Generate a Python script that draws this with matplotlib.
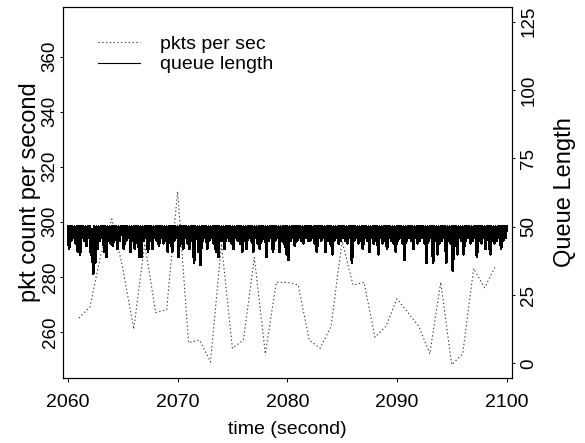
import numpy as np
import matplotlib
matplotlib.use('Agg')
import matplotlib.pyplot as plt

plt.rcParams['font.family'] = ['Liberation Sans', 'DejaVu Sans']

# ---- data ----
pkt_seconds = list(range(2061, 2100))
pkts_per_sec = [265, 269, 288, 301, 283, 261, 292, 267, 268, 311,
                256, 257, 249, 292, 254, 257, 287, 252, 278, 278,
                277, 257, 254, 262, 293, 277, 278, 258, 262, 272,
                267, 262, 252, 278, 248, 252, 283, 276, 284]

queue_start = 2060
queue_end = 2100
# queue length sampled every 0.1 s, one row per second
queue_rows = [
    [50, 42, 50, 45, 50, 46, 50, 44, 50, 41],  # 2060
    [50, 40, 50, 46, 50, 45, 50, 43, 50, 46],
    [50, 40, 49, 33, 50, 37, 50, 42, 50, 45],
    [50, 46, 50, 41, 50, 39, 50, 45, 50, 44],
    [50, 43, 50, 46, 50, 42, 50, 45, 50, 47],
    [50, 42, 50, 45, 50, 46, 50, 41, 50, 45],
    [50, 42, 50, 46, 50, 39, 50, 39, 50, 45],
    [50, 46, 50, 41, 50, 45, 50, 42, 50, 46],
    [50, 45, 50, 43, 50, 46, 50, 44, 50, 45],
    [50, 41, 50, 46, 50, 41, 50, 45, 50, 46],
    [50, 39, 50, 45, 50, 42, 50, 46, 50, 44],  # 2070
    [50, 42, 50, 45, 50, 37, 50, 46, 50, 41],
    [50, 36, 50, 45, 50, 46, 50, 42, 50, 45],
    [50, 46, 50, 44, 50, 41, 50, 39, 50, 45],
    [50, 45, 50, 42, 50, 46, 50, 45, 50, 44],
    [50, 42, 50, 46, 50, 45, 50, 44, 50, 41],
    [50, 45, 50, 42, 50, 46, 50, 45, 50, 41],
    [50, 46, 50, 44, 50, 42, 50, 45, 50, 46],
    [50, 39, 50, 45, 50, 46, 50, 41, 50, 45],
    [50, 46, 50, 41, 50, 45, 50, 44, 50, 40],
    [50, 38, 50, 45, 50, 46, 50, 43, 50, 45],  # 2080
    [50, 46, 50, 45, 50, 44, 50, 46, 50, 45],
    [50, 45, 50, 46, 50, 44, 50, 41, 50, 46],
    [50, 45, 50, 46, 50, 41, 50, 45, 50, 44],
    [50, 40, 50, 45, 50, 46, 50, 44, 50, 45],
    [50, 46, 50, 45, 50, 44, 50, 46, 50, 37],
    [50, 45, 50, 46, 50, 44, 50, 45, 50, 42],
    [50, 46, 50, 45, 50, 41, 50, 46, 50, 44],
    [50, 45, 50, 40, 50, 46, 50, 44, 50, 45],
    [50, 42, 50, 46, 50, 45, 50, 44, 50, 41],
    [50, 45, 50, 46, 50, 44, 50, 38, 50, 45],  # 2090
    [50, 46, 50, 45, 50, 42, 50, 46, 50, 44],
    [50, 45, 50, 46, 50, 44, 50, 37, 50, 45],
    [50, 46, 50, 37, 50, 45, 50, 40, 50, 44],
    [50, 45, 50, 46, 50, 37, 50, 45, 50, 44],
    [50, 34, 50, 45, 50, 40, 50, 46, 50, 45],
    [50, 40, 50, 45, 50, 46, 50, 44, 50, 45],
    [50, 46, 50, 39, 50, 45, 50, 44, 50, 46],
    [50, 42, 50, 46, 50, 40, 50, 45, 50, 44],
    [50, 45, 50, 46, 50, 42, 50, 45, 50, 46],
    [50],                                      # 2100
]
queue_length = [v for row in queue_rows for v in row]

x_ticks = [2060, 2070, 2080, 2090, 2100]
left_ticks = [260, 280, 300, 320, 340, 360]
right_ticks = [0, 25, 50, 75, 100, 125]

# ---- figure ----
W, H = 585, 443
fig = plt.figure(figsize=(W / 100, H / 100), dpi=100)
L, R, T, B = 62.7, 511.7, 6.7, 377.7
ax = fig.add_axes([L / W, 1 - B / H, (R - L) / W, (B - T) / H])
ax2 = ax.twinx()

l1, = ax.plot(pkt_seconds, pkts_per_sec, color='#3a3a3a', lw=0.8,
              ls=(0, (1.2, 2.2)), label='pkts per sec')
qt = np.linspace(queue_start, queue_end, len(queue_length))
l2, = ax2.plot(qt, queue_length, color='black', lw=1.3, antialiased=False,
               label='queue length')

ax.set_xlim(2059.52, 2100.47)
ax.set_ylim(243.3, 378.2)
ax2.set_ylim(-5.2, 130.5)

fs = 14
ax.set_xticks(x_ticks)
ax.set_yticks(left_ticks)
ax2.set_yticks(right_ticks)
ax.tick_params(axis='x', direction='out', length=3, width=0.7, pad=8.5, labelsize=fs)
ax.tick_params(axis='y', direction='out', length=2.5, width=0.7, pad=0.5, labelsize=13.5,
               labelrotation=90)
ax2.tick_params(axis='y', direction='out', length=2.5, width=0.7, pad=3.7, labelsize=13.5,
                labelrotation=90)
for lab in ax.get_yticklabels():
    lab.set_va('center')
for lab in ax2.get_yticklabels():
    lab.set_va('center')

for a in (ax, ax2):
    for s in a.spines.values():
        s.set_linewidth(0.8)
        s.set_color('black')

ax.set_xlabel('time (second)', fontsize=fs, va='center')
ax.xaxis.set_label_coords(0.5, -(429.5 - B) / (B - T))
ax.set_ylabel('pkt count per second', fontsize=17, va='center')
ax.yaxis.set_label_coords((29.7 - L) / (R - L), 0.5)
ax2.set_ylabel('Queue Length', fontsize=17, va='center', rotation=90)
ax2.yaxis.set_label_coords((565 - L) / (R - L), 0.5)

leg = ax2.legend([l1, l2], ['pkts per sec', 'queue length'], loc='upper left',
                 bbox_to_anchor=((98 - L) / (R - L), 1 - (35 - T) / (B - T)),
                 frameon=False, fontsize=fs, handlelength=2.16, handletextpad=1.03,
                 labelspacing=0.16, borderpad=0, borderaxespad=0)
for h in leg.get_lines():
    h.set_linewidth(0.8)
    h.set_antialiased(True)

fig.savefig('out.png', dpi=100)
